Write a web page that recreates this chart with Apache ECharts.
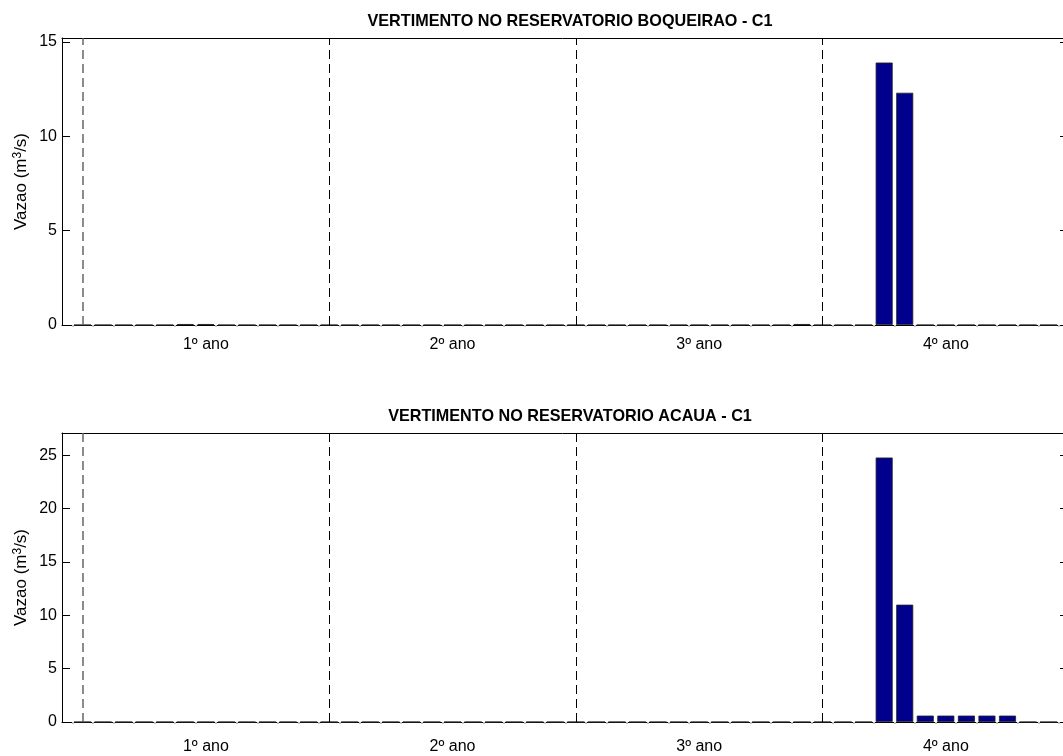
<!DOCTYPE html>
<html>
<head>
<meta charset="utf-8">
<script src="https://cdn.jsdelivr.net/npm/echarts@6/dist/echarts.min.js"></script>
<style>
html,body{margin:0;padding:0;background:#fff;}
#chart{width:1063px;height:756px;}
</style>
</head>
<body>
<div id="chart"></div>
<script>
// ---- data ----
var months = [1,2,3,4,5,6,7,8,9,10,11,12,
              13,14,15,16,17,18,19,20,21,22,23,24,
              25,26,27,28,29,30,31,32,33,34,35,36,
              37,38,39,40,41,42,43,44,45,46,47,48];
var boqueirao = [0,0,0,0,0,0.05,0.05,0,0,0,0,0,
                 0,0,0,0,0,0,0,0,0,0,0,0,
                 0,0,0,0,0,0,0,0,0,0,0,0.05,
                 0,0,0,13.9,12.3,0,0,0,0,0,0,0];
var acaua = [0,0,0,0,0,0,0,0,0,0,0,0,
             0,0,0,0,0,0,0,0,0,0,0,0,
             0,0,0,0,0,0,0,0,0,0,0,0,
             0,0,0,24.8,11.0,0.6,0.6,0.6,0.6,0.6,0,0];
var yearBoundaries = [1,13,25,37];
var yearLabelPos = [7,19,31,43];
var yearLabels = ['1º ano','2º ano','3º ano','4º ano'];
var minorTicks = [0.5,1.5,2.5,3.5,4.5,5.5,6.5,7.5,8.5,9.5,10.5,11.5,12.5,13.5,14.5,15.5,16.5,17.5,18.5,19.5,20.5,21.5,22.5,23.5,24.5,25.5,26.5,27.5,28.5,29.5,30.5,31.5,32.5,33.5,34.5,35.5,36.5,37.5,38.5,39.5,40.5,41.5,42.5,43.5,44.5,45.5,46.5,47.5,48.5];
var ticksTop = [0,5,10,15];
var ticksBottom = [0,5,10,15,20,25];
var titles = ['VERTIMENTO NO RESERVATORIO BOQUEIRAO - C1','VERTIMENTO NO RESERVATORIO ACAUA - C1'];
var yName = 'Vazao (m{sup|3}/s)';

var FONT = '"Liberation Sans", Arial, Helvetica, sans-serif';
var XMAX = 48.7;
var chart = echarts.init(document.getElementById('chart'), null, {renderer:'canvas'});

function xAxisFor(gi, labelMargin) {
  return {
    type:'value', gridIndex:gi, min:0, max:XMAX, position:'bottom',
    axisLine:{show:true, onZero:false, lineStyle:{color:'#000', width:1}},
    axisTick:{show:true, inside:false, length:2, customValues:minorTicks, lineStyle:{color:'#c4c4c4', width:2}},
    axisLabel:{show:true, customValues:yearLabelPos, margin:labelMargin, color:'#000', fontSize:16, fontFamily:FONT,
      formatter:function(v){ var i = yearLabelPos.indexOf(v); return i>=0 ? yearLabels[i] : ''; }},
    splitLine:{show:false}
  };
}
function xTopFor(gi) {
  return {
    type:'value', gridIndex:gi, min:0, max:XMAX, position:'top',
    axisLine:{show:true, onZero:false, lineStyle:{color:'#000', width:1}},
    axisTick:{show:false}, axisLabel:{show:false}, splitLine:{show:false}
  };
}
function yAxisFor(gi, max, ticks, pos) {
  var left = pos === 'left';
  return {
    type:'value', gridIndex:gi, min:0, max:max, position:pos,
    name: left ? yName : '', nameLocation:'middle', nameGap:41, nameRotate:90, nameMoveOverlap:false,
    nameTextStyle:{color:'#000', fontSize:17, fontFamily:FONT, lineHeight:19, verticalAlign:'middle',
      rich:{sup:{fontSize:12, fontFamily:FONT, color:'#000', verticalAlign:'top', lineHeight:19, padding:[0,0,8,0]}}},
    axisLine:{show:left, onZero:false, lineStyle:{color:'#000', width:1}},
    axisTick:{show:true, inside:true, length: left ? 8 : 3, customValues:ticks, lineStyle:{color:'#000', width:1}},
    axisLabel:{show:left, customValues:ticks, margin:5, color:'#000', fontSize:16, fontFamily:FONT},
    splitLine:{show:false}
  };
}
function barSeries(gi, vals) {
  return {
    type:'bar', xAxisIndex:gi*2, yAxisIndex:gi*2, barWidth:17,
    data: months.map(function(m,i){ return [m, vals[i]]; }),
    itemStyle:{color:'#00008c', borderColor:'#222', borderWidth:0.8},
    silent:true, animation:false,
    markLine:{
      silent:true, symbol:['none','none'], label:{show:false}, animation:false,
      lineStyle:{type:[9,5], color:'#000', width:1},
      data: yearBoundaries.map(function(b,i){
        return {xAxis:b, lineStyle:{type:[9,5], color: i===0 ? '#666' : '#000', width: i===0 ? 1.5 : 1}};
      })
    }
  };
}
function dummy(gi){ return {type:'line', xAxisIndex:gi*2+1, yAxisIndex:gi*2+1, data:[], silent:true}; }

chart.setOption({
  animation:false,
  backgroundColor:'#fff',
  textStyle:{fontFamily:FONT},
  title:[
    {text:titles[0], left:565, top:9, textAlign:'center', textStyle:{fontSize:16.2, fontWeight:'bold', color:'#000', fontFamily:FONT}},
    {text:titles[1], left:565, top:404, textAlign:'center', textStyle:{fontSize:16.2, fontWeight:'bold', color:'#000', fontFamily:FONT}}
  ],
  grid:[
    {left:62, top:38, right:0, height:287},
    {left:62, top:433, right:0, height:289}
  ],
  xAxis:[ xAxisFor(0, 12), xTopFor(0), xAxisFor(1, 17), xTopFor(1) ],
  yAxis:[
    yAxisFor(0, 15.2, ticksTop, 'left'), yAxisFor(0, 15.2, ticksTop, 'right'),
    yAxisFor(1, 27.1, ticksBottom, 'left'), yAxisFor(1, 27.1, ticksBottom, 'right')
  ],
  series:[ barSeries(0, boqueirao), barSeries(1, acaua), dummy(0), dummy(1) ]
});
</script>
</body>
</html>
